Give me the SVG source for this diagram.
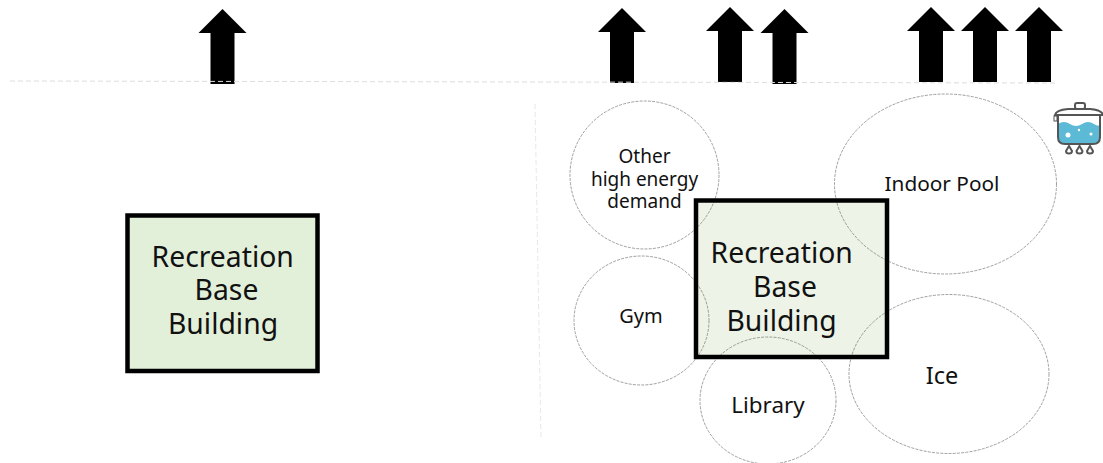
<svg xmlns="http://www.w3.org/2000/svg" width="1103" height="463" viewBox="0 0 1103 463">
<style>
text{font-family:"Noto Sans","Open Sans",sans-serif;fill:#111;text-anchor:middle}
.b{font-size:28.300px}.s{font-size:19px}.p{font-size:20.800px}.y{font-size:20px}.m{font-size:22.400px}.i{font-size:23.500px}
.c{fill:none;stroke:#777;stroke-width:.7;stroke-dasharray:3 1.2}
.r{stroke:#000;stroke-width:4.500}
.a{fill:#000}
.g{fill:none;stroke:#ddd;stroke-width:1;stroke-dasharray:5 3}
</style>
<defs><path id="ar" class="a" d="M0 0L24 24H12V75H-12V24H-24Z"/></defs>
<rect width="1103" height="463" fill="#fff"/>
<g id="connectors">
<use href="#ar" x="222.500" y="9"/>
<use href="#ar" x="622" y="8"/>
<use href="#ar" x="730" y="7"/>
<use href="#ar" x="784.500" y="9"/>
<use href="#ar" x="931" y="7"/>
<use href="#ar" x="985" y="7"/>
<use href="#ar" x="1039" y="7"/>
<path class="g" d="M10 81L1057 83"/>
<path class="g" style="stroke:#e8e8e8" d="M535 104L541 440"/>
</g>
<g id="node-base-left">
<rect class="r" x="127.500" y="215.500" width="190" height="155.500" fill="#e2efd9"/>
<text class="b" x="222.700" y="266.500">Recreation</text>
<text class="b" x="226.500" y="300">Base</text>
<text class="b" x="223" y="334">Building</text>
</g>
<g id="node-base-right">
<rect x="696" y="200" width="191" height="157" fill="#edf4e7"/>
</g>
<g id="node-other"><ellipse class="c" cx="644.500" cy="175" rx="74.500" ry="74"/>
<text class="s" x="644.500" y="163">Other</text><text class="s" x="644.500" y="186">high energy</text><text class="s" x="644.500" y="208">demand</text></g>
<g id="node-gym"><ellipse class="c" cx="641.500" cy="320.500" rx="67.500" ry="64.500"/><text class="y" x="641" y="323">Gym</text></g>
<g id="node-library"><ellipse class="c" cx="768" cy="400.500" rx="68" ry="63.500"/><text class="m" x="768" y="413">Library</text></g>
<g id="node-pool"><ellipse class="c" cx="945.500" cy="184" rx="111" ry="90"/><text class="p" x="942" y="191">Indoor Pool</text></g>
<g id="node-ice"><ellipse class="c" cx="949" cy="374" rx="100" ry="79.500"/><text class="i" x="942" y="384">Ice</text></g>
<g id="node-base-right-frame">
<rect x="696" y="200.500" width="191" height="156.500" fill="none" class="r"/>
<text class="b" x="781.700" y="263">Recreation</text>
<text class="b" x="785" y="297">Base</text>
<text class="b" x="781.500" y="331">Building</text>
</g>
<g id="node-pot">
<path d="M1058 124Q1064 120 1070 124T1082 124T1094 124T1100 123V137Q1100 144 1093 144H1065Q1058 144 1058 137Z" fill="#5cbad6"/>
<path d="M1058 116V137Q1058 144 1065 144H1093Q1100 144 1100 137V116" fill="none" stroke="#555" stroke-width="2"/>
<path d="M1055 115Q1056 110 1068 109H1090Q1102 110 1103 115Z" fill="#fff" stroke="#555" stroke-width="2"/>
<rect x="1075" y="103" width="10" height="6" rx="2" fill="#fff" stroke="#555" stroke-width="2"/>
<rect x="1054" y="116" width="3" height="5" fill="#fff" stroke="#555"/>
<g fill="#fff"><circle cx="1068" cy="135" r="2.500"/><circle cx="1079" cy="130" r="1.200"/><circle cx="1091" cy="134" r="1.500"/></g>
<g fill="#fff" stroke="#555" stroke-width="2"><path d="M1069 146L1072 151A3 2.500 0 0 1 1066 151Z"/><path d="M1079.500 146L1082.500 151A3 2.500 0 0 1 1076.500 151Z"/><path d="M1090 146L1093 151A3 2.500 0 0 1 1087 151Z"/></g>
</g>
</svg>
